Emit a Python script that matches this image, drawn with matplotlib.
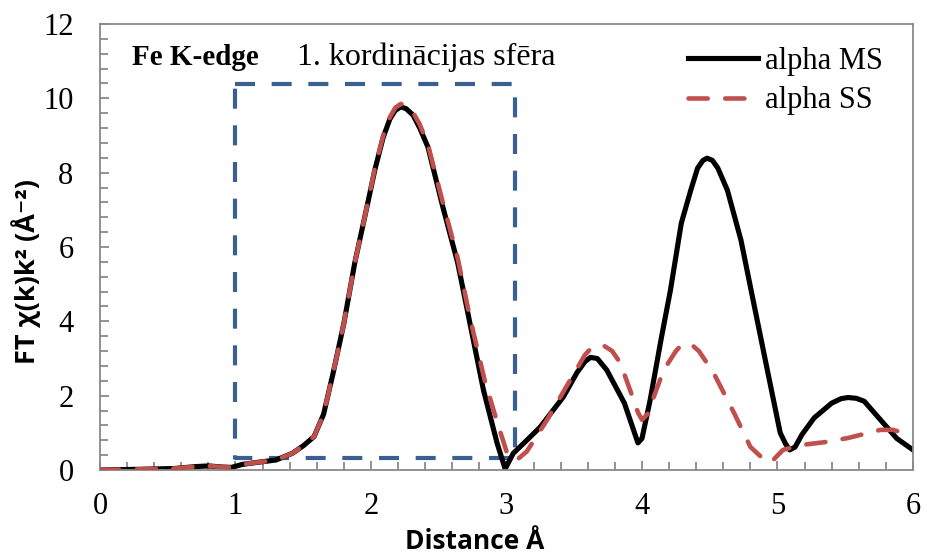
import numpy as np
import matplotlib
matplotlib.use('Agg')
import matplotlib.pyplot as plt
from matplotlib.ticker import MultipleLocator

# alpha MS (black solid)
x_ms = [0.0, 0.3, 0.55, 0.7, 0.8, 0.9, 0.97, 1.05, 1.15, 1.3, 1.42, 1.5, 1.58, 1.65,
        1.72, 1.8, 1.88, 1.97, 2.03, 2.09, 2.14, 2.18, 2.22, 2.26, 2.31, 2.36, 2.42,
        2.53, 2.64, 2.73, 2.83, 2.93, 2.99, 3.05, 3.15, 3.25, 3.42, 3.52, 3.58, 3.62,
        3.67, 3.74, 3.87, 3.94, 3.97, 4.0, 4.06, 4.14, 4.21, 4.29, 4.36, 4.41, 4.45,
        4.48, 4.52, 4.56, 4.63, 4.73, 4.83, 4.93, 5.02, 5.06, 5.09, 5.13, 5.18, 5.27,
        5.4, 5.47, 5.52, 5.58, 5.64, 5.76, 5.88, 6.0]
y_ms = [0.0, 0.02, 0.04, 0.09, 0.11, 0.08, 0.07, 0.15, 0.2, 0.27, 0.45, 0.65, 0.9, 1.5,
        2.6, 3.95, 5.57, 7.08, 8.1, 8.95, 9.45, 9.68, 9.77, 9.72, 9.55, 9.2, 8.69,
        7.08, 5.57, 3.95, 2.15, 0.73, 0.03, 0.45, 0.8, 1.16, 1.97, 2.62, 2.92, 3.03,
        3.0, 2.69, 1.8, 1.05, 0.73, 0.85, 1.88, 3.5, 4.84, 6.64, 7.53, 8.12, 8.33,
        8.39, 8.33, 8.12, 7.53, 6.19, 4.39, 2.6, 1.0, 0.7, 0.54, 0.62, 0.95, 1.4,
        1.8, 1.92, 1.95, 1.93, 1.85, 1.35, 0.85, 0.54]

# alpha SS (red dashed)
x_ss = [0.0, 0.3, 0.55, 0.7, 0.8, 0.9, 0.97, 1.05, 1.15, 1.3, 1.42, 1.5, 1.58, 1.65,
        1.72, 1.8, 1.88, 1.97, 2.03, 2.09, 2.14, 2.18, 2.22, 2.26, 2.31, 2.36, 2.42,
        2.53, 2.64, 2.73, 2.84, 2.93, 3.0, 3.07, 3.15, 3.3, 3.47, 3.58, 3.63, 3.67,
        3.72, 3.78, 3.84, 3.92, 3.97, 4.0, 4.04, 4.08, 4.16, 4.25, 4.29, 4.33, 4.37,
        4.42, 4.53, 4.68, 4.8, 4.88, 4.95, 5.04, 5.17, 5.35, 5.52, 5.65, 5.76, 5.85,
        5.93]
y_ss = [0.0, 0.02, 0.04, 0.09, 0.11, 0.08, 0.07, 0.15, 0.2, 0.27, 0.45, 0.65, 0.9, 1.5,
        2.6, 3.95, 5.57, 7.08, 8.15, 9.0, 9.5, 9.75, 9.85, 9.8, 9.62, 9.3, 8.75,
        7.2, 5.7, 4.1, 2.4, 1.3, 0.5, 0.25, 0.5, 1.35, 2.42, 3.1, 3.3, 3.36,
        3.34, 3.2, 2.88, 2.07, 1.55, 1.35, 1.5, 1.9, 2.69, 3.2, 3.36, 3.41, 3.36,
        3.2, 2.6, 1.53, 0.62, 0.35, 0.2, 0.54, 0.67, 0.75, 0.86, 0.98, 1.08, 1.08,
        1.0]

# first coordination shell box
box_x = [1.0, 3.06, 3.06, 1.0, 1.0]
box_y = [10.38, 10.38, 0.32, 0.32, 10.38]

serif = 'Liberation Serif'
sans = ['Open Sans', 'DejaVu Sans']
gray = '#898989'

fig = plt.figure(figsize=(9.28, 5.58), dpi=100)
ax = fig.add_axes([100/928, 88/558, 813/928, 446/558])

ax.plot(box_x, box_y, color='#3A6091', lw=3.0, dashes=(4.8, 4.0),
        solid_capstyle='butt', dash_capstyle='butt', zorder=1)
ax.plot(x_ms, y_ms, color='black', lw=3.7, label='alpha MS', zorder=2,
        solid_joinstyle='round')
ax.plot(x_ss, y_ss, color='#C0504D', lw=3.3, dashes=(4.2, 3.8),
        dash_capstyle='round', dash_joinstyle='round', label='alpha SS', zorder=3)

ax.set_xlim(0, 6)
ax.set_ylim(0, 12)
ax.xaxis.set_major_locator(MultipleLocator(1))
ax.xaxis.set_minor_locator(MultipleLocator(0.2))
ax.yaxis.set_major_locator(MultipleLocator(2))
ax.yaxis.set_minor_locator(MultipleLocator(0.4))
ax.tick_params(which='both', direction='in', color=gray, width=1.3,
               top=False, right=False)
ax.tick_params(which='major', length=6.5)
ax.tick_params(which='minor', length=5.5)
ax.tick_params(axis='x', which='major', pad=16)
ax.tick_params(axis='y', which='major', pad=19)
for lab in ax.get_xticklabels() + ax.get_yticklabels():
    lab.set_fontfamily(serif)
    lab.set_fontsize(22)
for s in ax.spines.values():
    s.set_color(gray)
    s.set_linewidth(1.3)

ax.set_xlabel('Distance Å', fontfamily=sans, fontweight='bold', fontsize=19)
ax.xaxis.set_label_coords(0.461, -0.131)
ax.set_ylabel('FT χ(k)k² (Å⁻²)', fontfamily=sans, fontweight='bold', fontsize=19.5)
ax.yaxis.set_label_coords(-0.072, 0.446)

ax.text(0.236, 10.9, 'Fe K-edge', fontfamily=serif, fontweight='bold',
        fontsize=21, va='baseline', ha='left')
ax.text(1.456, 10.9, '1. kordinācijas sfēra', fontfamily=serif,
        fontsize=23, va='baseline', ha='left')

leg = ax.legend(loc='upper right', bbox_to_anchor=(0.963, 0.948), frameon=False,
                prop={'family': serif, 'size': 22}, handlelength=2.3,
                handletextpad=0.23, labelspacing=0.33, borderaxespad=0.0,
                borderpad=0.0)

fig.savefig('out.png', dpi=100)
